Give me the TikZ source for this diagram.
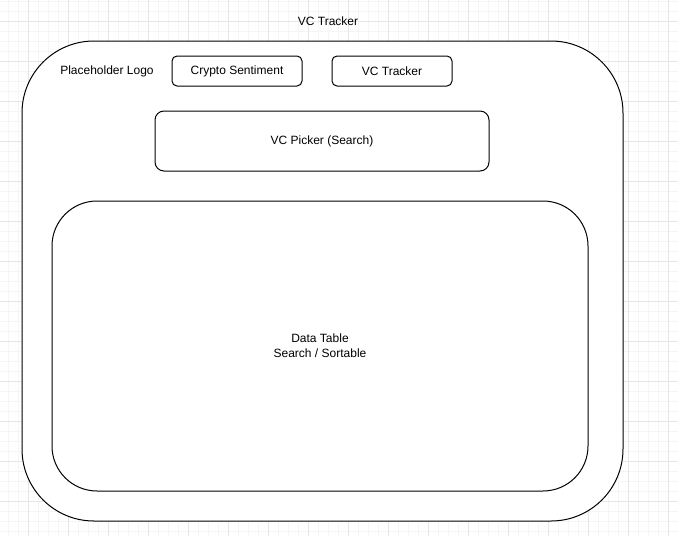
\documentclass[tikz,border=0pt]{standalone}
\usepackage{fontspec}
\setmainfont{Liberation Sans}
\definecolor{minorgrid}{HTML}{F5F5F5}
\definecolor{majorgrid}{HTML}{E6E6E6}
\begin{document}
\begin{tikzpicture}[x=1pt,y=-1pt,
  box/.style={draw=black, fill=white, line width=1pt, inner sep=0pt, font=\fontsize{12}{15}\selectfont, align=center},
  lbl/.style={inner sep=0pt, font=\fontsize{12}{15}\selectfont, align=center},
  minorline/.style={draw=minorgrid, line width=1pt},
  majorline/.style={draw=majorgrid, line width=1pt}]
\useasboundingbox (0,0) rectangle (678,536);
\fill[white] (0,0) rectangle (678,536);
% grid
\foreach \x in {8,18,...,678} \draw[minorline] (\x,0) -- (\x,536);
\foreach \y in {1,11,...,536} \draw[minorline] (0,\y) -- (678,\y);
\foreach \x in {28,68,...,678} \draw[majorline] (\x,0) -- (\x,536);
\foreach \y in {21,61,...,536} \draw[majorline] (0,\y) -- (678,\y);
% boxes
\node[box, rounded corners=72pt, minimum width=601pt, minimum height=480pt] (outer) at (322.5,281) {};
\node[box, rounded corners=45pt, minimum width=536pt, minimum height=290pt] (table) at (320,346) {Data Table\\Search / Sortable};
\node[box, rounded corners=9pt, minimum width=334pt, minimum height=60pt] (picker) at (322,141) {VC Picker (Search)};
\node[box, rounded corners=5pt, minimum width=130pt, minimum height=30pt] (crypto) at (237,71) {Crypto Sentiment};
\node[box, rounded corners=5pt, minimum width=120pt, minimum height=30pt] (tracker) at (392,71) {VC Tracker};
\node[lbl] (logo) at (107,71.5) {Placeholder Logo};
\node[lbl] (title) at (328,21) {VC Tracker};
\end{tikzpicture}
\end{document}
